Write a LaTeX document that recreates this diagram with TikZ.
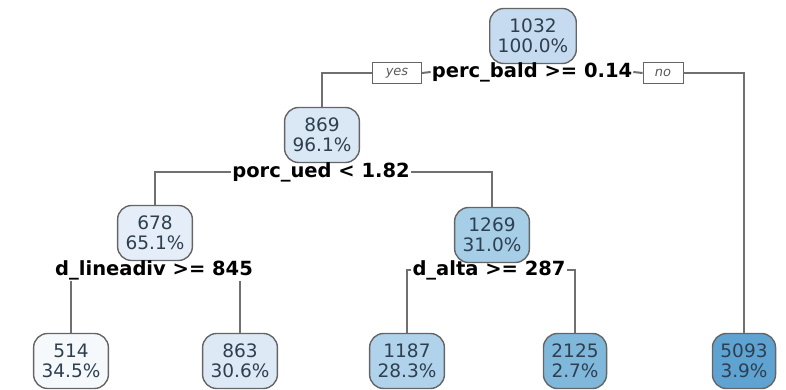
\documentclass[tikz,border=0pt]{standalone}
\usepackage{fontspec}
\setmainfont{DejaVu Sans}
\definecolor{edgegray}{HTML}{707070}
\definecolor{boxgray}{HTML}{656565}
\definecolor{ntext}{HTML}{2E3F50}
\definecolor{cA}{HTML}{C6DBEF}
\definecolor{cB}{HTML}{DAE7F4}
\definecolor{cC}{HTML}{E5EEF8}
\definecolor{cD}{HTML}{F6F9FC}
\definecolor{cE}{HTML}{DDE9F5}
\definecolor{cF}{HTML}{A6CEE6}
\definecolor{cG}{HTML}{B0D2EA}
\definecolor{cH}{HTML}{80B8DC}
\definecolor{cI}{HTML}{5FA3D2}
\tikzset{
  leafbox/.style={draw=boxgray, line width=1.4pt, rounded corners=14pt,
    inner xsep=8pt, minimum height=55pt, align=center, text=ntext,
    font=\fontsize{18.5}{20.5}\selectfont},
  splitlbl/.style={inner sep=1pt, font=\fontsize{19.5}{22}\selectfont\bfseries, text=black},
  yesno/.style={draw=boxgray, line width=0.9pt, inner sep=0pt, minimum height=21pt,
    font=\fontsize{13}{15}\selectfont\itshape, text=black!65},
  conn/.style={draw=edgegray, line width=2pt}
}
\begin{document}
\begin{tikzpicture}[x=1pt,y=-1pt]
\useasboundingbox (0,0) rectangle (786,390);
% nodes
\node[leafbox, fill=cA] (n1032) at (533,36) {1032\\100.0\%};
\node[splitlbl] (s1) at (532,72) {perc\_bald >= 0.14};
\node[yesno, minimum width=49pt] (yes) at (397,73) {yes};
\node[yesno, minimum width=40pt] (no) at (663,73) {no};
\node[leafbox, fill=cB] (n869) at (322,135) {869\\96.1\%};
\node[splitlbl] (s2) at (321,172) {porc\_ued < 1.82};
\node[leafbox, fill=cC] (n678) at (155,233) {678\\65.1\%};
\node[leafbox, fill=cF] (n1269) at (492,235) {1269\\31.0\%};
\node[leafbox, fill=cD] (n514) at (71,361) {514\\34.5\%};
\node[leafbox, fill=cE] (n863) at (240,361) {863\\30.6\%};
\node[leafbox, fill=cG] (n1187) at (407,361) {1187\\28.3\%};
\node[leafbox, fill=cH] (n2125) at (575,361) {2125\\2.7\%};
\node[leafbox, fill=cI] (n5093) at (744,361) {5093\\3.9\%};
% connectors
\draw[conn] (yes.west) -| (n869.north);
\draw[conn] (yes.east) -- (s1.west);
\draw[conn] (s1.east) -- (no.west);
\draw[conn] (no.east) -| (n5093.north);
\draw[conn] (s2.west) -| (n678.north);
\draw[conn] (s2.east) -| (n1269.north);
\node[splitlbl] (s3) at (154,270) {d\_lineadiv >= 845};
\draw[conn] (s3.south -| n514.north) -- (n514.north);
\draw[conn] (s3.south -| n863.north) -- (n863.north);
\node[splitlbl] (s4) at (489,270) {d\_alta >= 287};
\draw[conn] (s4.west) -| (n1187.north);
\draw[conn] (s4.east) -| (n2125.north);
\end{tikzpicture}
\end{document}
